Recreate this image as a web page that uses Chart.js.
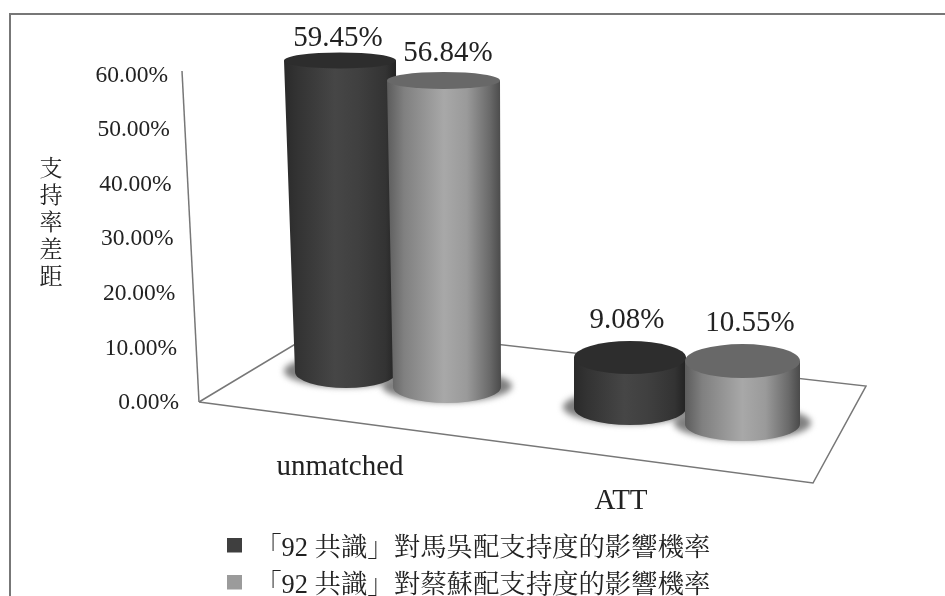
<!DOCTYPE html>
<html lang="zh-Hant">
<head>
<meta charset="utf-8">
<title>支持率差距</title>
<style>
  html, body { margin: 0; padding: 0; background: #fff; }
  canvas { display: block; }
</style>
<script src="https://cdn.jsdelivr.net/npm/chart.js@4/dist/chart.umd.min.js"></script>
</head>
<body>
<canvas id="chart" width="945" height="596"></canvas>
<script>
// Chart values
const categories = ['unmatched', 'ATT'];
const seriesNames = ['「92 共識」對馬吳配支持度的影響機率', '「92 共識」對蔡蘇配支持度的影響機率'];
const maWuValues = [59.45, 9.08];
const tsaiSuValues = [56.84, 10.55];
const axisTitle = ['支', '持', '率', '差', '距'];

// Cylinder tones, one per series
const legendColors = ['#3f3f3f', '#9b9b9b'];
const capColors = ['#2d2d2d', '#686868'];
const sideStops = [
  [[0, '#2a2a2a'], [0.12, '#333333'], [0.45, '#464646'], [0.65, '#404040'], [0.9, '#333333'], [1, '#222222']],
  [[0, '#5c5c5c'], [0.15, '#808080'], [0.5, '#a8a8a8'], [0.7, '#9a9a9a'], [0.9, '#6a6a6a'], [1, '#4a4a4a']]
];

// Perspective of each cylinder on the tilted floor, indexed [series][category]
const perspective = [
  [
    { baseY: 372, depth: 0.96, dxTop: 3, dxBase: 9, rxTop: 56, rxBase: 51, ryTop: 8, ryBase: 16, labelDx: -2, labelDy: -22 },
    { baseY: 408, depth: 1.018, dxTop: -1, dxBase: -1, rxTop: 56, rxBase: 56, ryTop: 16.5, ryBase: 17, labelDx: -3, labelDy: -37.5 }
  ],
  [
    { baseY: 387, depth: 0.988, dxTop: -3.5, dxBase: 0, rxTop: 56.5, rxBase: 54, ryTop: 8.5, ryBase: 16, labelDx: 4.5, labelDy: -27 },
    { baseY: 424, depth: 1.092, dxTop: 1.5, dxBase: 1.5, rxTop: 57.5, rxBase: 57.5, ryTop: 17, ryBase: 17, labelDx: 7.5, labelDy: -38 }
  ]
];

const SERIF = '"Liberation Serif", "Noto Serif CJK TC", "Noto Sans CJK TC", serif';
const LINE = '#777777';
const TEXT = '#222222';

// Legend swatches: a 15px square in the upper part of a taller image, which lifts it above the text's midline
const legendMarkers = legendColors.map(color => {
  const marker = document.createElement('canvas');
  marker.width = 15;
  marker.height = 23;
  const mctx = marker.getContext('2d');
  mctx.fillStyle = color;
  mctx.fillRect(0, 0, 15, 15);
  return marker;
});

function pathLine(ctx, pts, width) {
  ctx.beginPath();
  pts.forEach((p, i) => (i ? ctx.lineTo(p[0], p[1]) : ctx.moveTo(p[0], p[1])));
  ctx.lineWidth = width;
  ctx.strokeStyle = LINE;
  ctx.stroke();
}

function cylinderGeometry(el, p) {
  const height = (el.base - el.y) * p.depth;
  return {
    topX: el.x + p.dxTop,
    topY: p.baseY - height,
    baseX: el.x + p.dxBase,
    baseY: p.baseY
  };
}

function drawShadow(ctx, g, p) {
  ctx.save();
  ctx.filter = 'blur(3px)';
  ctx.fillStyle = '#808080';
  ctx.beginPath();
  ctx.ellipse(g.baseX, g.baseY - 1, p.rxBase + 11, p.ryBase, 0, 0, Math.PI * 2);
  ctx.fill();
  ctx.restore();
}

function drawCylinder(ctx, g, p, seriesIndex) {
  const left = Math.min(g.topX - p.rxTop, g.baseX - p.rxBase);
  const right = Math.max(g.topX + p.rxTop, g.baseX + p.rxBase);
  const shade = ctx.createLinearGradient(left, 0, right, 0);
  sideStops[seriesIndex].forEach(s => shade.addColorStop(s[0], s[1]));
  ctx.beginPath();
  ctx.moveTo(g.topX - p.rxTop, g.topY);
  ctx.lineTo(g.baseX - p.rxBase, g.baseY);
  ctx.ellipse(g.baseX, g.baseY, p.rxBase, p.ryBase, 0, Math.PI, 0, true);
  ctx.lineTo(g.topX + p.rxTop, g.topY);
  ctx.closePath();
  ctx.fillStyle = shade;
  ctx.fill();
  ctx.beginPath();
  ctx.ellipse(g.topX, g.topY, p.rxTop, p.ryTop, 0, 0, Math.PI * 2);
  ctx.fillStyle = capColors[seriesIndex];
  ctx.fill();
}

const scene3d = {
  id: 'scene3d',
  beforeDraw(chart) {
    const ctx = chart.ctx;
    ctx.save();
    ctx.fillStyle = '#ffffff';
    ctx.fillRect(0, 0, chart.width, chart.height);
    pathLine(ctx, [[10, 596], [10, 14], [945, 14]], 2);
    ctx.restore();
  },
  afterLayout(chart) {
    // The legend sits below the floor, clear of the plot area
    const legend = chart.legend;
    legend.left = 216.4;
    legend.right = 760;
    legend.top = 525.2;
    legend.bottom = 800;
  },
  beforeDatasetsDraw(chart) {
    const ctx = chart.ctx;
    const y = chart.scales.y;
    const x = chart.scales.x;
    const floorY = y.getPixelForValue(0) - 1;
    ctx.save();

    // Back wall edge and floor outline
    pathLine(ctx, [[182, 71], [199, floorY]], 1.5);
    pathLine(ctx, [[199, floorY], [327, 325], [866, 386], [813, 483], [199, floorY]], 1.5);

    // Value axis labels follow the slanted wall
    ctx.fillStyle = TEXT;
    ctx.font = '23.5px ' + SERIF;
    ctx.textAlign = 'right';
    ctx.textBaseline = 'middle';
    y.ticks.forEach(t => {
      ctx.fillText(t.label, 179 - t.value * 0.183, y.getPixelForValue(t.value));
    });

    // Axis title, set vertically one character at a time
    ctx.font = '23px ' + SERIF;
    ctx.textAlign = 'center';
    axisTitle.forEach((ch, i) => ctx.fillText(ch, 51, 170 + i * 26.9));

    // Category labels lie along the front edge of the floor
    ctx.font = '29px ' + SERIF;
    ctx.fillText(categories[0], x.getPixelForTick(0) - 52, 467);
    ctx.fillText(categories[1], x.getPixelForTick(1) - 65, 501);

    // Shadows first, then the cylinders back to front
    const metas = [chart.getDatasetMeta(0), chart.getDatasetMeta(1)];
    categories.forEach((_, c) => metas.forEach((m, s) => {
      drawShadow(ctx, cylinderGeometry(m.data[c], perspective[s][c]), perspective[s][c]);
    }));
    categories.forEach((_, c) => metas.forEach((m, s) => {
      drawCylinder(ctx, cylinderGeometry(m.data[c], perspective[s][c]), perspective[s][c], s);
    }));

    // Value labels above each cylinder
    ctx.fillStyle = TEXT;
    ctx.font = '29px ' + SERIF;
    ctx.textAlign = 'center';
    categories.forEach((_, c) => metas.forEach((m, s) => {
      const p = perspective[s][c];
      const g = cylinderGeometry(m.data[c], p);
      const v = chart.data.datasets[s].data[c];
      ctx.fillText(v.toFixed(2) + '%', g.topX + p.labelDx, g.topY + p.labelDy);
    }));

    ctx.restore();
    return false;
  }
};

new Chart(document.getElementById('chart'), {
  type: 'bar',
  data: {
    labels: categories,
    datasets: [
      { label: seriesNames[0], data: maWuValues, backgroundColor: legendColors[0] },
      { label: seriesNames[1], data: tsaiSuValues, backgroundColor: legendColors[1] }
    ]
  },
  options: {
    responsive: false,
    animation: false,
    devicePixelRatio: 1,
    barThickness: 110,
    layout: { padding: { left: 237, right: 112, top: 75.5, bottom: 185 } },
    scales: {
      x: {
        grid: { display: false },
        border: { display: false },
        ticks: { display: false }
      },
      y: {
        min: 0,
        max: 60,
        grid: { display: false },
        border: { display: false },
        ticks: {
          display: false,
          stepSize: 10,
          callback: v => v.toFixed(2) + '%'
        }
      }
    },
    plugins: {
      tooltip: { enabled: false },
      legend: {
        position: 'chartArea',
        align: 'start',
        labels: {
          usePointStyle: true,
          boxWidth: 15,
          boxHeight: 15,
          padding: 10.6,
          color: TEXT,
          font: { family: SERIF, size: 26.4 },
          generateLabels: chart =>
            Chart.defaults.plugins.legend.labels.generateLabels(chart)
              .map((item, i) => ({ ...item, pointStyle: legendMarkers[i] }))
        }
      }
    }
  },
  plugins: [scene3d]
});
</script>
</body>
</html>
